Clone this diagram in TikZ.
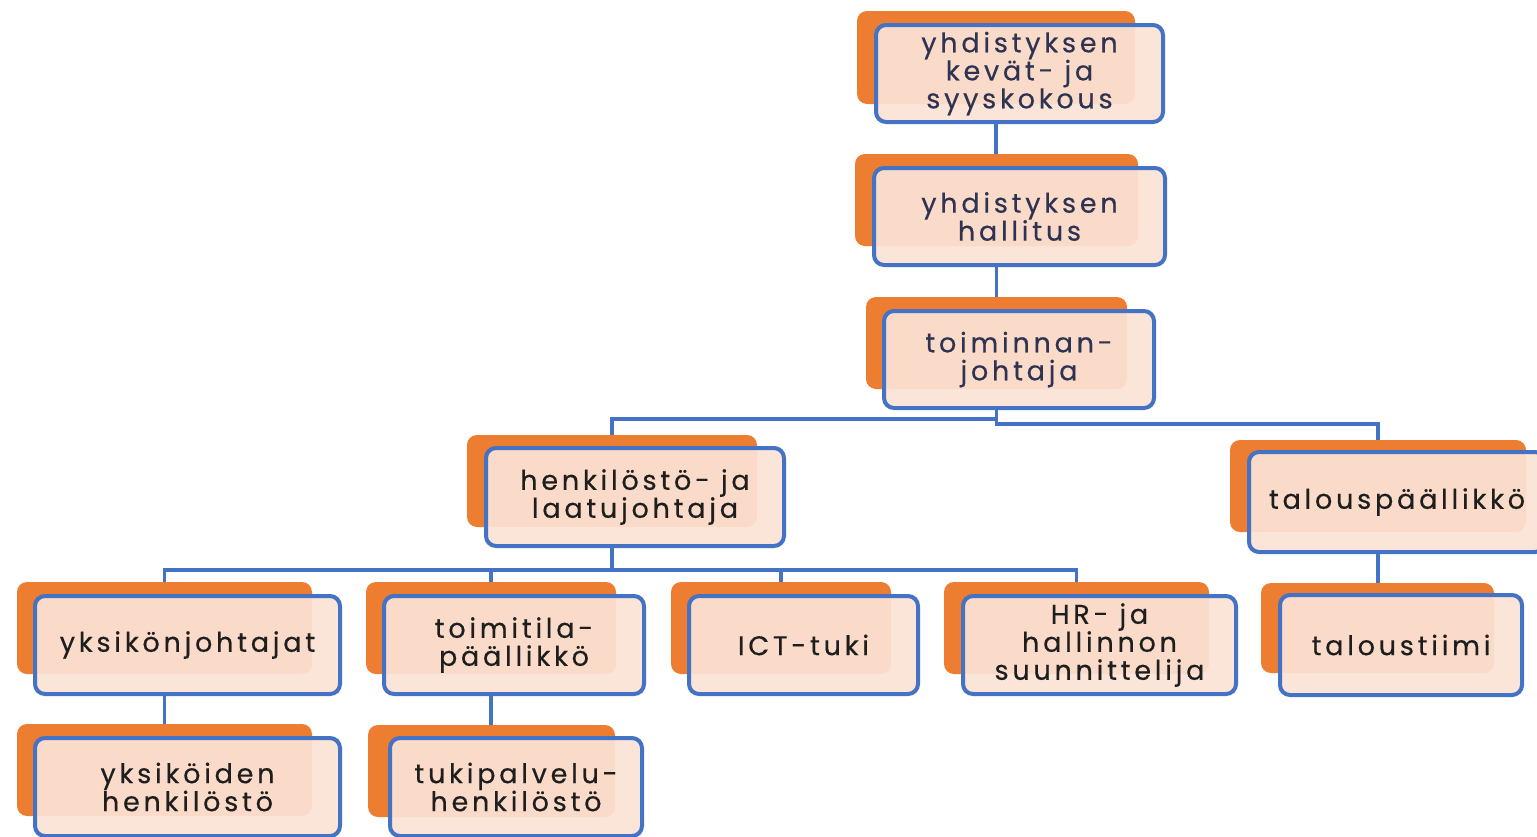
\documentclass[tikz,border=0pt]{standalone}
\usepackage{fontspec}
\setmainfont{Poppins}[LetterSpace=14, FakeBold=0.4]
\definecolor{borange}{HTML}{ED7D31}
\definecolor{bblue}{HTML}{4472C4}
\definecolor{bpeach}{HTML}{FBE3D6}
\definecolor{topink}{HTML}{2E3352}
\definecolor{lowink}{HTML}{1E1E1E}
\begin{document}
\begin{tikzpicture}[x=0.5pt,y=-0.5pt,
  obox/.style={draw=none, fill=borange, rounded corners=5pt, inner sep=0pt, minimum height=46pt},
  bbox/.style={draw=bblue, line width=2pt, fill=bpeach, fill opacity=0.93, text opacity=1,
    rounded corners=5pt, inner sep=0pt, align=center, text=lowink,
    font=\fontsize{13.5}{14}\selectfont, minimum height=49pt},
  link/.style={draw=bblue, line width=1.8pt}]
\useasboundingbox (0,0) rectangle (1537,836);
\fill[white] (0,0) rectangle (1537,836);
\clip (0,0) rectangle (1537,836);
\coordinate (bus1) at (0,419);
\coordinate (bus2) at (0,424);
\coordinate (bus3) at (0,570);
% level 1
\node[obox, minimum width=139pt, minimum height=46.5pt] (o1) at (996,57.5) {};
\node[bbox, text=topink, minimum width=143.5pt, minimum height=48.5pt] (b1) at (1019.5,73.5) {yhdistyksen\\kevät- ja\\syyskokous};
% level 2
\node[obox, minimum width=141.5pt] (o2) at (996.5,200) {};
\node[bbox, text=topink, minimum width=145.5pt, minimum height=48.5pt] (b2) at (1019.5,216.5) {yhdistyksen\\hallitus};
% level 3
\node[obox, minimum width=130.5pt] (o3) at (996.5,343) {};
\node[bbox, text=topink, minimum width=135pt, minimum height=48.5pt] (b3) at (1019,359.5) {toiminnan-\\johtaja};
% level 4
\node[obox, minimum width=145pt] (o4) at (612,481) {};
\node[bbox, minimum width=149pt] (b4) at (635,497) {henkilöstö- ja\\laatujohtaja};
\node[obox, minimum width=148pt] (o5) at (1378,486) {};
\node[bbox, minimum width=148pt, minimum height=50pt] (b5) at (1397,502) {talouspäällikkö};
% level 5
\node[obox, minimum width=147.5pt] (o6) at (164.5,628) {};
\node[bbox, minimum width=152.5pt] (b6) at (187.5,645) {yksikönjohtajat};
\node[obox, minimum width=125pt] (o7) at (491,628) {};
\node[bbox, minimum width=130pt] (b7) at (514,645) {toimitila-\\päällikkö};
\node[obox, minimum width=110pt] (o8) at (781,628) {};
\node[bbox, minimum width=114.5pt] (b8) at (803.5,645) {ICT-tuki};
\node[obox, minimum width=132.5pt] (o9) at (1076.5,628) {};
\node[bbox, minimum width=136.5pt] (b9) at (1099.5,645) {HR- ja\\hallinnon\\suunnittelija};
\node[obox, minimum width=116.5pt, minimum height=45pt] (o10) at (1377.5,628) {};
\node[bbox, minimum width=121pt, minimum height=50pt] (b10) at (1401,645) {taloustiimi};
% level 6
\node[obox, minimum width=147.5pt] (o11) at (164.5,770) {};
\node[bbox, minimum width=152.5pt] (b11) at (187.5,787) {yksiköiden\\henkilöstö};
\node[obox, minimum width=123.5pt] (o12) at (491.5,771) {};
\node[bbox, minimum width=126pt] (b12) at (516,787) {tukipalvelu-\\henkilöstö};
% connectors
\draw[link] (o1 |- b1.south) -- (o1 |- o2.north);
\draw[link] (o2 |- b2.south) -- (o2 |- o3.north);
\draw[link] (o3 |- b3.south) -- (o3 |- bus1) -| (o4.north);
\draw[link] (o3 |- b3.south) -- (o3 |- bus2) -| (o5.north);
\foreach \t in {o6,o7,o8,o9}
  \draw[link] (o4 |- b4.south) -- (o4 |- bus3) -| (\t.north);
\draw[link] (o5 |- b5.south) -- (o5 |- o10.north);
\draw[link] (o6 |- b6.south) -- (o6 |- o11.north);
\draw[link] (o7 |- b7.south) -- (o7 |- o12.north);
\end{tikzpicture}
\end{document}
